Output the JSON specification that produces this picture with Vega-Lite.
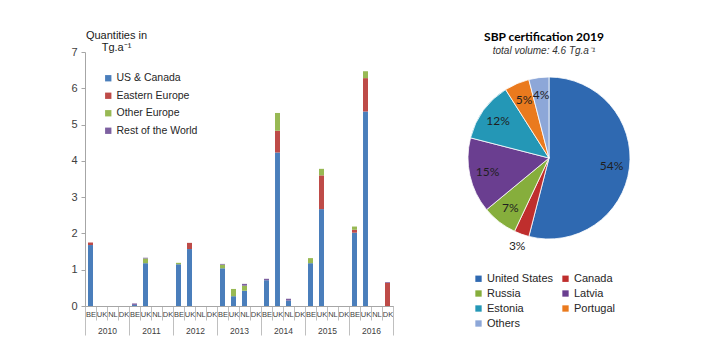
{
  "$schema": "https://vega.github.io/schema/vega-lite/v6.json",
  "padding": {"left": 70, "top": 29, "right": 5, "bottom": 5},
  "bounds": "flush",
  "spacing": 56,
  "config": {"view": {"stroke": null}, "font": "Liberation Sans, Arial"},
  "resolve": {"scale": {"color": "independent"}, "legend": {"color": "independent"}},
  "datasets": {
    "exports": [
      {"slot": "2010 BE", "region": "US & Canada", "value": 1.68},
      {"slot": "2010 BE", "region": "Eastern Europe", "value": 0.07},
      {"slot": "2011 BE", "region": "US & Canada", "value": 0.03},
      {"slot": "2011 BE", "region": "Rest of the World", "value": 0.04},
      {"slot": "2011 UK", "region": "US & Canada", "value": 1.18},
      {"slot": "2011 UK", "region": "Other Europe", "value": 0.13},
      {"slot": "2011 UK", "region": "Rest of the World", "value": 0.02},
      {"slot": "2012 BE", "region": "US & Canada", "value": 1.15},
      {"slot": "2012 BE", "region": "Other Europe", "value": 0.04},
      {"slot": "2012 UK", "region": "US & Canada", "value": 1.57},
      {"slot": "2012 UK", "region": "Eastern Europe", "value": 0.17},
      {"slot": "2013 BE", "region": "US & Canada", "value": 1.04},
      {"slot": "2013 BE", "region": "Other Europe", "value": 0.1},
      {"slot": "2013 BE", "region": "Rest of the World", "value": 0.02},
      {"slot": "2013 UK", "region": "US & Canada", "value": 0.27},
      {"slot": "2013 UK", "region": "Other Europe", "value": 0.2},
      {"slot": "2013 NL", "region": "US & Canada", "value": 0.42},
      {"slot": "2013 NL", "region": "Other Europe", "value": 0.14},
      {"slot": "2013 NL", "region": "Rest of the World", "value": 0.05},
      {"slot": "2014 BE", "region": "US & Canada", "value": 0.71},
      {"slot": "2014 BE", "region": "Rest of the World", "value": 0.04},
      {"slot": "2014 UK", "region": "US & Canada", "value": 4.23},
      {"slot": "2014 UK", "region": "Eastern Europe", "value": 0.6},
      {"slot": "2014 UK", "region": "Other Europe", "value": 0.49},
      {"slot": "2014 NL", "region": "US & Canada", "value": 0.15},
      {"slot": "2014 NL", "region": "Rest of the World", "value": 0.05},
      {"slot": "2015 BE", "region": "US & Canada", "value": 1.18},
      {"slot": "2015 BE", "region": "Other Europe", "value": 0.14},
      {"slot": "2015 UK", "region": "US & Canada", "value": 2.67},
      {"slot": "2015 UK", "region": "Eastern Europe", "value": 0.93},
      {"slot": "2015 UK", "region": "Other Europe", "value": 0.18},
      {"slot": "2016 BE", "region": "US & Canada", "value": 2.02},
      {"slot": "2016 BE", "region": "Eastern Europe", "value": 0.08},
      {"slot": "2016 BE", "region": "Other Europe", "value": 0.09},
      {"slot": "2016 UK", "region": "US & Canada", "value": 5.36},
      {"slot": "2016 UK", "region": "Eastern Europe", "value": 0.92},
      {"slot": "2016 UK", "region": "Other Europe", "value": 0.19},
      {"slot": "2016 DK", "region": "Eastern Europe", "value": 0.64},
      {"slot": "2016 DK", "region": "Rest of the World", "value": 0.02}
    ],
    "years": [
      {"year": "2010"}, {"year": "2011"}, {"year": "2012"}, {"year": "2013"},
      {"year": "2014"}, {"year": "2015"}, {"year": "2016"}
    ],
    "pie": [
      {"country": "United States", "share": 0.54},
      {"country": "Canada", "share": 0.03},
      {"country": "Russia", "share": 0.07},
      {"country": "Latvia", "share": 0.15},
      {"country": "Estonia", "share": 0.12},
      {"country": "Portugal", "share": 0.05},
      {"country": "Others", "share": 0.04}
    ]
  },
  "hconcat": [
    {
      "width": 308,
      "height": 254,
      "resolve": {"scale": {"x": "independent"}, "axis": {"x": "independent"}},
      "layer": [
        {
          "data": {"name": "exports"},
          "transform": [
            {"calculate": "indexof(['US & Canada', 'Eastern Europe', 'Other Europe', 'Rest of the World'], datum.region)", "as": "stackRank"}
          ],
          "mark": {"type": "bar", "width": {"band": 0.45}},
          "encoding": {
            "x": {
              "field": "slot", "type": "nominal",
              "scale": {
                "domain": ["2010 BE","2010 UK","2010 NL","2010 DK","2011 BE","2011 UK","2011 NL","2011 DK","2012 BE","2012 UK","2012 NL","2012 DK","2013 BE","2013 UK","2013 NL","2013 DK","2014 BE","2014 UK","2014 NL","2014 DK","2015 BE","2015 UK","2015 NL","2015 DK","2016 BE","2016 UK","2016 NL","2016 DK"],
                "paddingInner": 0, "paddingOuter": 0
              },
              "axis": {
                "title": null, "orient": "bottom", "labelAngle": 0,
                "labelExpr": "split(datum.label, ' ')[1]",
                "tickBand": "extent", "tickSize": 14, "labelPadding": -10,
                "labelFontSize": 7.5, "labelColor": "#404040",
                "domainColor": "#A6A6A6", "tickColor": "#BFBFBF"
              }
            },
            "y": {
              "field": "value", "type": "quantitative", "stack": "zero",
              "scale": {"domain": [0, 7], "nice": false},
              "axis": {
                "title": ["Quantities in", "Tg.a⁻¹"],
                "titleAngle": 0, "titleX": 31, "titleY": -23,
                "titleAlign": "center", "titleBaseline": "top",
                "titleFontWeight": "normal", "titleFontSize": 11,
                "titleColor": "#1a1a1a", "titleLineHeight": 12,
                "values": [0, 1, 2, 3, 4, 5, 6, 7],
                "tickSize": 4, "labelPadding": 4, "labelFontSize": 11,
                "labelColor": "#404040", "grid": false,
                "domainColor": "#A6A6A6", "tickColor": "#A6A6A6"
              }
            },
            "order": {"field": "stackRank", "type": "quantitative"},
            "color": {
              "field": "region", "type": "nominal",
              "sort": ["US & Canada", "Eastern Europe", "Other Europe", "Rest of the World"],
              "scale": {
                "domain": ["US & Canada", "Eastern Europe", "Other Europe", "Rest of the World"],
                "range": ["#4A7EBB", "#BE4B48", "#98B954", "#7D60A0"]
              },
              "legend": {
                "title": null, "orient": "none", "legendX": 18, "legendY": 21,
                "padding": 0, "symbolType": "square", "symbolSize": 40,
                "symbolStrokeWidth": 0, "labelFontSize": 10.5, "labelOffset": 3,
                "rowPadding": 6.5, "labelColor": "#262626"
              }
            }
          }
        },
        {
          "data": {"name": "years"},
          "mark": {"type": "text", "text": ""},
          "encoding": {
            "x": {
              "field": "year", "type": "ordinal",
              "scale": {"paddingInner": 0, "paddingOuter": 0},
              "axis": {
                "title": null, "orient": "bottom", "labelAngle": 0,
                "tickBand": "extent", "tickSize": 29, "labelPadding": -9,
                "labelFontSize": 8.5, "labelColor": "#404040",
                "domainColor": "#A6A6A6", "tickColor": "#BFBFBF"
              }
            }
          }
        }
      ]
    },
    {
      "width": 200,
      "height": 212,
      "data": {"name": "pie"},
      "transform": [{"window": [{"op": "row_number", "as": "idx"}]}],
      "title": {
        "text": "SBP certification 2019",
        "subtitle": "total volume: 4.6 Tg.a⁻¹",
        "font": "Lato", "fontSize": 12, "fontWeight": "bold", "color": "#000000",
        "subtitleFont": "Liberation Sans, Arial",
        "subtitleFontStyle": "italic", "subtitleFontSize": 10,
        "subtitleColor": "#333333", "subtitlePadding": 2,
        "anchor": "middle", "offset": -5, "dx": -5
      },
      "layer": [
        {
          "mark": {"type": "arc", "outerRadius": 81, "stroke": "#ffffff", "strokeWidth": 0.8},
          "encoding": {
            "theta": {"field": "share", "type": "quantitative", "stack": true},
            "order": {"field": "idx", "type": "quantitative"},
            "color": {
              "field": "country", "type": "nominal",
              "sort": ["United States", "Canada", "Russia", "Latvia", "Estonia", "Portugal", "Others"],
              "scale": {
                "domain": ["United States", "Canada", "Russia", "Latvia", "Estonia", "Portugal", "Others"],
                "range": ["#2F69B1", "#BF2E2D", "#86AE3C", "#6A3E90", "#2497B6", "#EA7A1E", "#8DA7D8"]
              },
              "legend": {
                "title": null, "orient": "none", "legendX": 24, "legendY": 221,
                "columns": 2, "direction": "horizontal", "padding": 0,
                "symbolType": "square", "symbolSize": 40,
                "symbolStrokeWidth": 0, "labelFontSize": 11, "labelOffset": 3,
                "rowPadding": 3, "columnPadding": 6, "labelColor": "#262626"
              }
            }
          }
        },
        {
          "mark": {"type": "text", "radius": 63, "font": "Lato", "fontSize": 12},
          "encoding": {
            "theta": {"field": "share", "type": "quantitative", "stack": true},
            "order": {"field": "idx", "type": "quantitative"},
            "detail": {"field": "country", "type": "nominal"},
            "text": {"field": "share", "type": "quantitative", "format": ".0%"},
            "color": {"value": "#1F1F1F"},
            "opacity": {"condition": {"test": "datum.country === 'Canada'", "value": 0}, "value": 1}
          }
        },
        {
          "mark": {"type": "text", "radius": 94, "font": "Lato", "fontSize": 12},
          "encoding": {
            "theta": {"field": "share", "type": "quantitative", "stack": true},
            "order": {"field": "idx", "type": "quantitative"},
            "detail": {"field": "country", "type": "nominal"},
            "text": {"field": "share", "type": "quantitative", "format": ".0%"},
            "color": {"value": "#1F1F1F"},
            "opacity": {"condition": {"test": "datum.country === 'Canada'", "value": 1}, "value": 0}
          }
        }
      ]
    }
  ]
}
